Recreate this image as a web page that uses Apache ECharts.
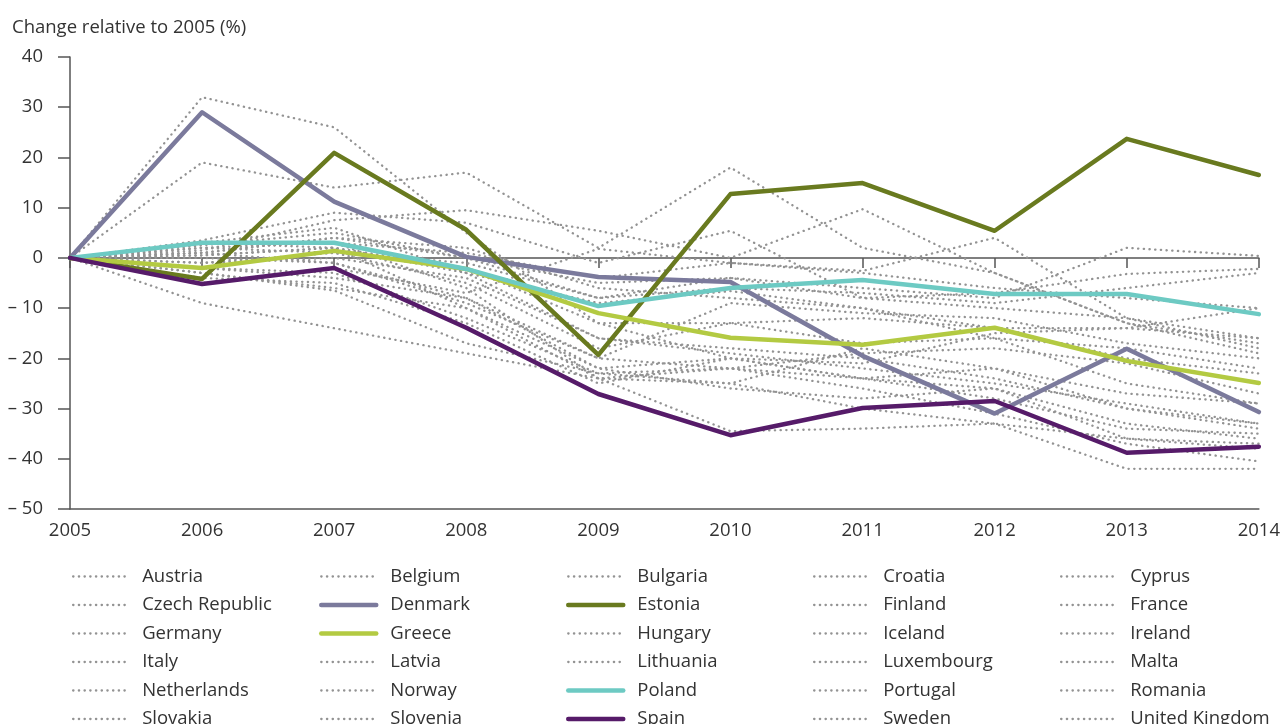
<!DOCTYPE html>
<html>
<head>
<meta charset="utf-8">
<script src="https://cdn.jsdelivr.net/npm/echarts@6/dist/echarts.min.js"></script>
<style>
  html, body { margin: 0; padding: 0; background: #fff; }
  #chart { width: 1283px; height: 724px; }
</style>
</head>
<body>
<div id="chart"></div>
<script>
const years = ['2005', '2006', '2007', '2008', '2009', '2010', '2011', '2012', '2013', '2014'];

// highlighted countries
const denmark = [0, 29, 11.2, 0.2, -3.8, -4.8, -19.5, -31, -18.1, -30.7];
const estonia = [0, -4.2, 20.9, 5.6, -19.3, 12.7, 14.9, 5.4, 23.7, 16.5];
const greece = [0, -2, 1.4, -2.2, -11, -15.9, -17.3, -13.9, -20.5, -24.9];
const poland = [0, 3, 3, -2.2, -9.6, -6, -4.4, -7.2, -7.2, -11.2];
const spain = [0, -5.2, -2, -13.9, -27.1, -35.3, -29.9, -28.5, -38.8, -37.6];

// the rest (dotted grey)
const austria = [0, 2, 3, 1, -4, -1, -3, -6, -8, -10];
const belgium = [0, 1, 4, 2, -6, -8, -10, -16, -18, -22];
const bulgaria = [0, 32, 26, 5, -13, -20, -24, -26, -36, -38];
const croatia = [0, 3, 6, -3, -16, -19, -22, -25, -29, -33];
const cyprus = [0, 19, 14, 17, 2, 18, 2, -3, -13, -17];
const czech = [0, -1, 1, -5, -18, -13, -12, -14, -20, -23];
const finland = [0, 3.5, 9, 7, -1, 5.4, -8, -10, -12, -16];
const france = [0, -2, -4, -8, -20, -22, -24, -28, -34, -35];
const germany = [0, 2.5, 5, 0, -8, -6, -7, -9, -6, -3];
const hungary = [0, -3, -6, -10, -22, -26, -28, -26, -33, -36];
const iceland = [0, 1.5, 7.5, 9.5, 5.4, 0, 9.7, -3, -13, -19];
const ireland = [0, 0.5, 2, -2, -13, -13, -17, -16, -25, -29];
const italy = [0, -1, 0, -4, -16, -18, -20, -24, -30, -33];
const latvia = [0, 3, 3, -6, -24, -25, -18, -22, -30, -34];
const lithuania = [0, -4, -5, -13, -25, -20, -21, -15, -14, -10];
const luxembourg = [0, 0, -1, -9, -20, -9, -11, -12, -17, -20];
const malta = [0, -5, -2, -7, 1.8, -1, -2.6, 4, -12, -18];
const netherlands = [0, 2, 1, -1, -8, -4, -8, -7, -3.2, -2.2];
const norway = [0, 1, 4, 0, -5, -4, -6, -8, 2, 0.4];
const portugal = [0, -2, -3, -12, -23, -25, -30, -33, -42, -42];
const romania = [0, 3, 2, -10, -24, -22, -26, -31, -37, -40.5];
const slovakia = [0, 1, -1, -8, -22, -20, -24, -22, -27, -29];
const slovenia = [0, -3, -6.5, -17, -23, -22, -19, -18, -21, -27];
const sweden = [0, 0.5, 2, -3, -9, -6.6, -10, -14, -14, -16];
const uk = [0, -9, -14, -19, -24, -34.5, -34, -33, -36, -37];

const countries = [
  'Austria', 'Belgium', 'Bulgaria', 'Croatia', 'Cyprus',
  'Czech Republic', 'Denmark', 'Estonia', 'Finland', 'France',
  'Germany', 'Greece', 'Hungary', 'Iceland', 'Ireland',
  'Italy', 'Latvia', 'Lithuania', 'Luxembourg', 'Malta',
  'Netherlands', 'Norway', 'Poland', 'Portugal', 'Romania',
  'Slovakia', 'Slovenia', 'Spain', 'Sweden', 'United Kingdom'
];

const values = {
  'Austria': austria, 'Belgium': belgium, 'Bulgaria': bulgaria, 'Croatia': croatia,
  'Cyprus': cyprus, 'Czech Republic': czech, 'Denmark': denmark, 'Estonia': estonia,
  'Finland': finland, 'France': france, 'Germany': germany, 'Greece': greece,
  'Hungary': hungary, 'Iceland': iceland, 'Ireland': ireland, 'Italy': italy,
  'Latvia': latvia, 'Lithuania': lithuania, 'Luxembourg': luxembourg, 'Malta': malta,
  'Netherlands': netherlands, 'Norway': norway, 'Poland': poland, 'Portugal': portugal,
  'Romania': romania, 'Slovakia': slovakia, 'Slovenia': slovenia, 'Spain': spain,
  'Sweden': sweden, 'United Kingdom': uk
};

const highlight = {
  'Denmark': '#7b7a9c',
  'Estonia': '#697a1f',
  'Greece': '#b3ca42',
  'Poland': '#6dcac3',
  'Spain': '#561b69'
};

const font = '"Open Sans", "Noto Sans", sans-serif';
const textColor = '#333';
const fs = 18.5;

var series = [];
// grey ones first so the coloured lines sit on top
countries.filter(c => !highlight[c]).forEach(c => {
  series.push({
    name: c, type: 'line', data: values[c], symbol: 'none', z: 2,
    color: '#999',
    lineStyle: { color: '#939393', width: 2.3, type: [0.3, 5.4], cap: 'round' }
  })
})
countries.filter(c => highlight[c]).forEach(c => {
  series.push({
    name: c, type: 'line', data: values[c], symbol: 'none', z: 3,
    color: highlight[c],
    lineStyle: { color: highlight[c], width: 4.5, cap: 'round', join: 'round' }
  })
})

const colX = [67, 314, 561, 808, 1055];
var legends = colX.map((x, col) => ({
  orient: 'vertical',
  left: x,
  top: 562,
  height: 400,
  itemWidth: 55,
  itemHeight: 16,
  itemGap: 9.5,
  selectedMode: false,
  itemStyle: { opacity: 0, borderWidth: 0 },
  lineStyle: { width: 'inherit', cap: 'round' },
  data: countries.filter((c, i) => i % 5 === col),
  textStyle: { fontFamily: font, fontSize: fs, color: textColor, lineHeight: 16, padding: [0, 0, 0, 9] }
}))

var myChart = echarts.init(document.getElementById('chart'));
myChart.setOption({
  animation: false,
  backgroundColor: '#fff',
  title: {
    text: 'Change relative to 2005 (%)',
    left: 7, top: 13,
    textStyle: { fontFamily: font, fontSize: fs, fontWeight: 'normal', color: textColor }
  },
  legend: legends,
  grid: { left: 70, right: 22, top: 57, bottom: 215 },
  xAxis: [{
    type: 'category',
    data: years,
    boundaryGap: false,
    position: 'bottom',
    axisLine: { onZero: false, lineStyle: { color: '#555', width: 1.5 } },
    axisTick: { show: false },
    axisLabel: { fontFamily: font, fontSize: fs, color: textColor, margin: 12 }
  }, {
    type: 'category',
    data: years,
    boundaryGap: false,
    position: 'bottom',
    axisLine: { onZero: true, lineStyle: { color: '#555', width: 1.5 } },
    axisTick: { show: true, length: 10, lineStyle: { color: '#555', width: 1.5 } },
    axisLabel: { show: false }
  }],
  yAxis: {
    type: 'value',
    min: -50, max: 40, interval: 10,
    splitLine: { show: false },
    axisLine: { show: true, lineStyle: { color: '#555', width: 1.5 } },
    axisTick: { show: true, length: 12, lineStyle: { color: '#555', width: 1.5 } },
    axisLabel: {
      fontFamily: font, fontSize: fs, color: textColor, margin: 27,
      formatter: v => v < 0 ? '\u2013 ' + Math.abs(v) : String(v)
    }
  },
  series: series
});
</script>
</body>
</html>
